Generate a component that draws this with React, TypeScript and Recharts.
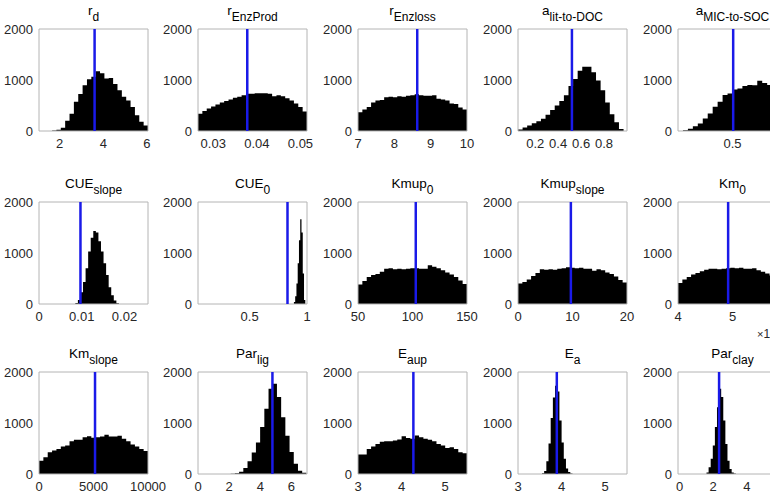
import React from "react";
import { ComposedChart, Area, XAxis, YAxis, ReferenceLine, ReferenceArea } from "recharts";

const FONT = '"Liberation Sans", Arial, Helvetica, sans-serif';
const TEXT = "#262626";
const FRAME = "#b4b4b4";
const BEST = "#1a1ae8";

// histogram counts per parameter; bins start at *Start and are *Width wide
const rdStart = 1.05;
const rdWidth = 0.2;
const rdCounts = [0, 0, 0, 8, 26, 66, 200, 340, 572, 724, 895, 1013, 1066, 1170, 1130, 1030, 1040, 920, 800, 670, 600, 470, 310, 180, 110];

const enzProdStart = 0.0265;
const enzProdWidth = 0.001;
const enzProdCounts = [340, 390, 440, 480, 520, 560, 590, 620, 650, 670, 700, 730, 730, 740, 740, 740, 730, 680, 700, 680, 640, 600, 540, 470, 380];

const enzLossStart = 7;
const enzLossWidth = 0.12;
const enzLossCounts = [370, 420, 470, 560, 600, 610, 660, 670, 660, 680, 670, 690, 700, 720, 700, 690, 690, 700, 630, 620, 600, 540, 530, 460, 420];

const litStart = 0.05;
const litWidth = 0.04;
const litCounts = [30, 70, 110, 150, 190, 240, 320, 410, 500, 590, 700, 880, 1020, 1180, 1260, 1260, 1150, 990, 800, 560, 330, 170, 40];

const micStart = 0.1;
const micWidth = 0.03636;
const micCounts = [0, 15, 46, 92, 145, 243, 342, 474, 572, 704, 737, 816, 835, 882, 900, 895, 985, 940, 900, 800, 600, 350];

const cueSlopeStart = 0.0085;
const cueSlopeWidth = 0.0006;
const cueSlopeCounts = [20, 80, 230, 430, 700, 1030, 1300, 1430, 1400, 1230, 1030, 800, 570, 330, 170, 70, 15];

const cue0Start = 0.886;
const cue0Width = 0.011;
const cue0Counts = [40, 150, 400, 800, 1250, 1660, 1400, 600, 80];

const kmup0Start = 50;
const kmup0Width = 4;
const kmup0Counts = [380, 450, 530, 570, 590, 630, 690, 700, 680, 690, 680, 690, 700, 700, 690, 690, 760, 730, 700, 660, 620, 580, 530, 460, 390];

const kmupSlopeStart = 0;
const kmupSlopeWidth = 0.8;
const kmupSlopeCounts = [400, 430, 480, 550, 610, 680, 670, 680, 670, 690, 700, 720, 710, 700, 710, 690, 690, 650, 680, 660, 620, 590, 540, 470, 420];

const km0Start = 4;
const km0Width = 0.08;
const km0Counts = [410, 480, 530, 580, 610, 640, 670, 690, 690, 680, 690, 700, 710, 700, 710, 690, 690, 700, 660, 630, 600, 560, 520, 470, 420];

const kmSlopeStart = 0;
const kmSlopeWidth = 400;
const kmSlopeCounts = [262, 330, 426, 460, 490, 540, 560, 640, 670, 670, 720, 740, 710, 720, 735, 770, 735, 735, 750, 690, 640, 580, 540, 490, 450];

const parLigStart = 2.1;
const parLigWidth = 0.27;
const parLigCounts = [5, 15, 45, 120, 250, 420, 620, 920, 1280, 1670, 1770, 1510, 1115, 750, 430, 200, 65, 25];

const eaupStart = 3;
const eaupWidth = 0.1;
const eaupCounts = [380, 380, 490, 540, 590, 630, 643, 643, 656, 675, 741, 708, 690, 755, 722, 690, 670, 643, 590, 558, 512, 525, 490, 426, 406];

const eaStart = 3.55;
const eaWidth = 0.05;
const eaCounts = [15, 60, 250, 600, 1100, 1500, 1730, 1620, 1050, 620, 300, 110, 40, 10];

const parClayStart = 1.6;
const parClayWidth = 0.125;
const parClayCounts = [30, 130, 300, 560, 920, 1310, 1670, 1510, 1050, 590, 260, 100, 30, 10];

// best-fit value of each parameter (blue line)
const bestValues = [3.6, 0.0378, 8.63, 0.52, 0.505, 0.0097, 0.83, 103, 9.7, 4.92, 5140, 4.78, 4.27, 3.89, 2.35];

const countTicks = [0, 1000, 2000];

interface Panel {
  name: string;
  sub: string;
  start: number;
  width: number;
  counts: number[];
  domain: [number, number];
  ticks: number[];
  labels: string[];
}

const panels: Panel[] = [
  { name: "r", sub: "d", start: rdStart, width: rdWidth, counts: rdCounts, domain: [1.05, 6.05], ticks: [2, 4, 6], labels: ["2", "4", "6"] },
  { name: "r", sub: "EnzProd", start: enzProdStart, width: enzProdWidth, counts: enzProdCounts, domain: [0.0265, 0.0515], ticks: [0.03, 0.04, 0.05], labels: ["0.03", "0.04", "0.05"] },
  { name: "r", sub: "Enzloss", start: enzLossStart, width: enzLossWidth, counts: enzLossCounts, domain: [7, 10], ticks: [7, 8, 9, 10], labels: ["7", "8", "9", "10"] },
  { name: "a", sub: "lit-to-DOC", start: litStart, width: litWidth, counts: litCounts, domain: [0.05, 1.0], ticks: [0.2, 0.4, 0.6, 0.8], labels: ["0.2", "0.4", "0.6", "0.8"] },
  { name: "a", sub: "MIC-to-SOC", start: micStart, width: micWidth, counts: micCounts, domain: [0.1, 0.9], ticks: [0.5], labels: ["0.5"] },
  { name: "CUE", sub: "slope", start: cueSlopeStart, width: cueSlopeWidth, counts: cueSlopeCounts, domain: [0, 0.0255], ticks: [0, 0.01, 0.02], labels: ["0", "0.01", "0.02"] },
  { name: "CUE", sub: "0", start: cue0Start, width: cue0Width, counts: cue0Counts, domain: [0.05, 1.0], ticks: [0.5, 1], labels: ["0.5", "1"] },
  { name: "Kmup", sub: "0", start: kmup0Start, width: kmup0Width, counts: kmup0Counts, domain: [50, 150], ticks: [50, 100, 150], labels: ["50", "100", "150"] },
  { name: "Kmup", sub: "slope", start: kmupSlopeStart, width: kmupSlopeWidth, counts: kmupSlopeCounts, domain: [0, 20], ticks: [0, 10, 20], labels: ["0", "10", "20"] },
  { name: "Km", sub: "0", start: km0Start, width: km0Width, counts: km0Counts, domain: [4, 6], ticks: [4, 5], labels: ["4", "5"] },
  { name: "Km", sub: "slope", start: kmSlopeStart, width: kmSlopeWidth, counts: kmSlopeCounts, domain: [0, 10000], ticks: [0, 5000, 10000], labels: ["0", "5000", "10000"] },
  { name: "Par", sub: "lig", start: parLigStart, width: parLigWidth, counts: parLigCounts, domain: [0, 7], ticks: [0, 2, 4, 6], labels: ["0", "2", "4", "6"] },
  { name: "E", sub: "aup", start: eaupStart, width: eaupWidth, counts: eaupCounts, domain: [3, 5.5], ticks: [3, 4, 5], labels: ["3", "4", "5"] },
  { name: "E", sub: "a", start: eaStart, width: eaWidth, counts: eaCounts, domain: [3, 5.5], ticks: [3, 4, 5], labels: ["3", "4", "5"] },
  { name: "Par", sub: "clay", start: parClayStart, width: parClayWidth, counts: parClayCounts, domain: [-0.1, 6.4], ticks: [0, 2, 4], labels: ["0", "2", "4"] },
];

// grid geometry (plot-area corners)
const colLeft = [39, 198, 358, 518, 678];
const rowTop = [29, 202, 372];
const PLOT_W = 109;
const PLOT_H = 102;
const Y_AXIS_W = 45;
const X_AXIS_H = 24;
const PAD_TOP = 10;
const PAD_RIGHT = 22;

// step points along the bin edges, last count repeated at the closing edge
function histPoints(start: number, width: number, counts: number[]) {
  const pts = counts.map((c, i) => ({ x: start + i * width, count: c }));
  pts.push({ x: start + counts.length * width, count: counts[counts.length - 1] });
  return pts;
}

function XTick(props: { x?: number; y?: number; payload?: { value: number; index: number }; labels: string[] }) {
  const { x = 0, y = 0, payload, labels } = props;
  const label = payload ? labels[payload.index] ?? String(payload.value) : "";
  return (
    <text x={x} y={y} dy="0.71em" textAnchor="middle" fontSize={13} fill={TEXT} fontFamily={FONT}>
      {label}
    </text>
  );
}

function HistPanel({ panel, best, left, top }: { panel: Panel; best: number; left: number; top: number }) {
  const data = histPoints(panel.start, panel.width, panel.counts);
  return (
    <>
      <svg
        style={{ position: "absolute", left: left - 30, top: top - 32 }}
        width={PLOT_W + 60}
        height={32}
      >
        <text x={30 + PLOT_W / 2} y={18} textAnchor="middle" fontFamily={FONT} fill="#000">
          <tspan fontSize={13.5}>{panel.name}</tspan>
          <tspan fontSize={12} dy={6}>{panel.sub}</tspan>
        </text>
      </svg>
      <div style={{ position: "absolute", left: left - Y_AXIS_W, top: top - PAD_TOP }}>
        <ComposedChart
          width={Y_AXIS_W + PLOT_W + PAD_RIGHT}
          height={PAD_TOP + PLOT_H + X_AXIS_H}
          data={data}
          margin={{ top: PAD_TOP, right: PAD_RIGHT, bottom: 0, left: 0 }}
        >
          <XAxis
            dataKey="x"
            type="number"
            domain={panel.domain}
            allowDataOverflow
            ticks={panel.ticks}
            interval={0}
            axisLine={false}
            tickLine={false}
            height={X_AXIS_H}
            tick={<XTick labels={panel.labels} />}
          />
          <YAxis
            type="number"
            domain={[0, 2000]}
            ticks={countTicks}
            interval={0}
            axisLine={false}
            tickLine={false}
            tickSize={4}
            tickMargin={2}
            width={Y_AXIS_W}
            tick={{ fontSize: 13, fill: TEXT, fontFamily: FONT }}
          />
          <Area
            dataKey="count"
            type="stepAfter"
            fill="#000"
            fillOpacity={1}
            stroke="none"
            dot={false}
            activeDot={false}
            isAnimationActive={false}
          />
          <ReferenceArea
            x1={panel.domain[0]}
            x2={panel.domain[1]}
            y1={0}
            y2={2000}
            fill="none"
            stroke={FRAME}
            strokeWidth={1}
          />
          <ReferenceLine x={best} stroke={BEST} strokeWidth={2.5} />
        </ComposedChart>
      </div>
    </>
  );
}

export default function App() {
  return (
    <div
      style={{
        position: "absolute",
        left: 0,
        top: 0,
        width: 770,
        height: 493,
        overflow: "hidden",
        background: "#fff",
        fontFamily: FONT,
      }}
    >
      {panels.map((p, i) => (
        <HistPanel
          key={i}
          panel={p}
          best={bestValues[i]}
          left={colLeft[i % 5]}
          top={rowTop[Math.floor(i / 5)]}
        />
      ))}
      <svg style={{ position: "absolute", left: 740, top: 322 }} width={50} height={22}>
        <text x={17} y={16} fontFamily={FONT} fill={TEXT} fontSize={12}>
          <tspan fontSize={11}>×</tspan>
          <tspan>10</tspan>
          <tspan fontSize={9} dy={-5}>4</tspan>
        </text>
      </svg>
    </div>
  );
}
